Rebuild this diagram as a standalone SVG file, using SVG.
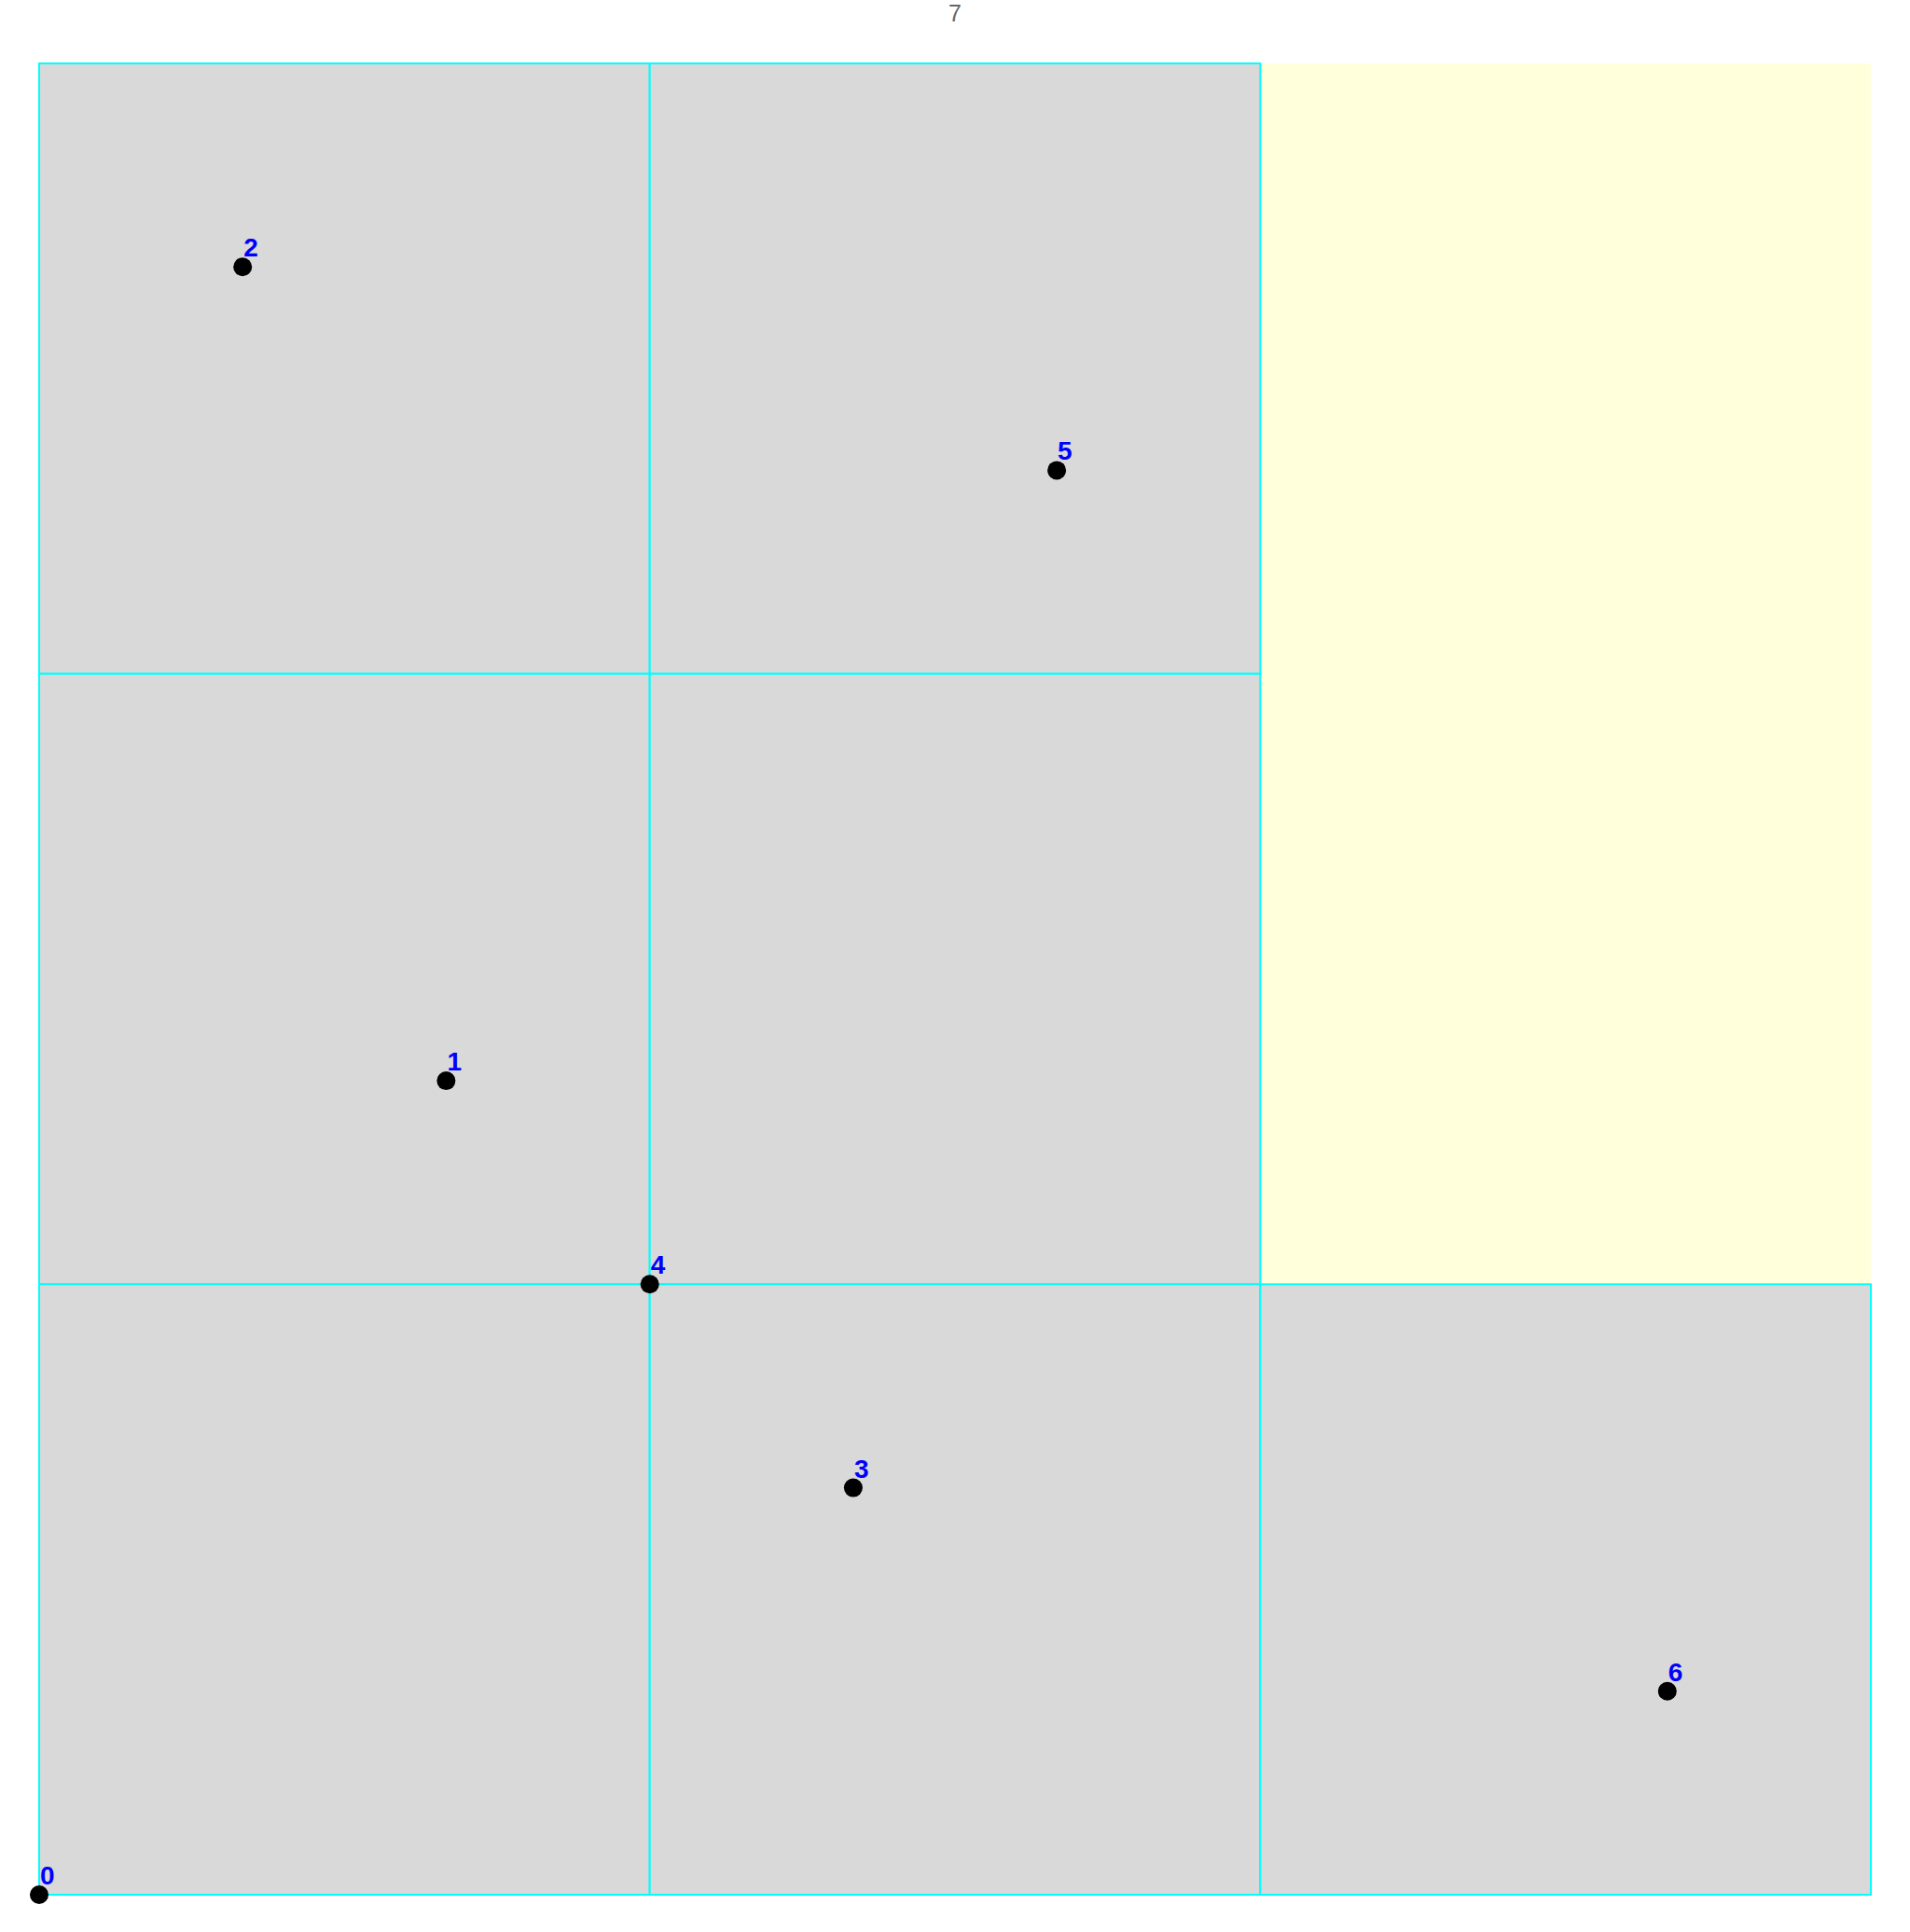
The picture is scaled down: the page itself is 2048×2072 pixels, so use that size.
<svg xmlns="http://www.w3.org/2000/svg" width="2048" height="2072" viewBox="0 0 2048 2072">
<style>
.cell{fill:#d9d9d9;stroke:#00ffff;stroke-width:2}
.free{fill:#ffffdc;stroke:none}
.pt{fill:#000}
.lbl{font-family:"Liberation Sans",Arial,sans-serif;font-size:28px;font-weight:bold;fill:#0000ff}
.title{font-family:"Liberation Sans",Arial,sans-serif;font-size:25px;fill:#666666}
</style>
<rect width="2048" height="2072" fill="#ffffff"/>
<text class="title" x="1024" y="23" text-anchor="middle">7</text>
<g id="cells">
<rect class="free" x="1351.33" y="68" width="654.67" height="1309.33"/>
<rect class="cell" x="42" y="68" width="654.67" height="654.67"/>
<rect class="cell" x="696.67" y="68" width="654.67" height="654.67"/>
<rect class="cell" x="42" y="722.67" width="654.67" height="654.67"/>
<rect class="cell" x="696.67" y="722.67" width="654.67" height="654.67"/>
<rect class="cell" x="42" y="1377.33" width="654.67" height="654.67"/>
<rect class="cell" x="696.67" y="1377.33" width="654.67" height="654.67"/>
<rect class="cell" x="1351.33" y="1377.33" width="654.67" height="654.67"/>
</g>
<g id="connectors"></g>
<g id="node0"><circle class="pt" cx="42" cy="2032" r="10"/><text class="lbl" x="43" y="2021">0</text></g>
<g id="node1"><circle class="pt" cx="478.4" cy="1159.1" r="10"/><text class="lbl" x="479.4" y="1148">1</text></g>
<g id="node2"><circle class="pt" cx="260.2" cy="286.2" r="10"/><text class="lbl" x="261.2" y="275">2</text></g>
<g id="node3"><circle class="pt" cx="914.9" cy="1595.6" r="10"/><text class="lbl" x="915.9" y="1584.5">3</text></g>
<g id="node4"><circle class="pt" cx="696.7" cy="1377.3" r="10"/><text class="lbl" x="697.7" y="1366">4</text></g>
<g id="node5"><circle class="pt" cx="1133.1" cy="504.4" r="10"/><text class="lbl" x="1134.1" y="493.3">5</text></g>
<g id="node6"><circle class="pt" cx="1787.8" cy="1813.8" r="10"/><text class="lbl" x="1788.8" y="1802.7">6</text></g>
</svg>
